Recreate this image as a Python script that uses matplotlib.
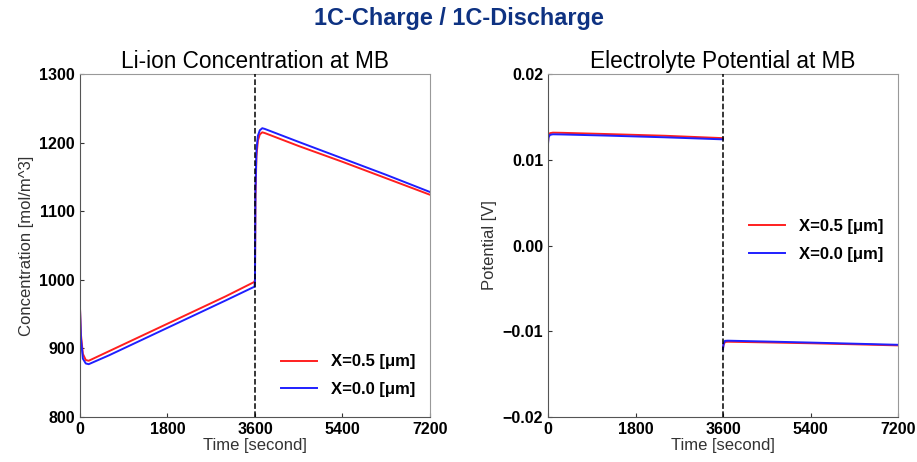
import numpy as np
import matplotlib
matplotlib.use('Agg')
import matplotlib.pyplot as plt

plt.rcParams['font.family'] = ['Liberation Sans', 'DejaVu Sans']

# values
t_conc = [0, 20, 60, 120, 180, 600, 1200, 1800, 2400, 3000, 3590,
          3600, 3610, 3630, 3660, 3700, 3750, 3800, 4500, 5400, 6300, 7200]
conc_x05 = [960, 920, 892, 883, 882, 896, 916, 936, 956, 976, 997,
            1000, 1120, 1180, 1203, 1212, 1215, 1214, 1195, 1172, 1148, 1124]
conc_x00 = [960, 915, 885, 878, 877, 890, 910, 930, 950, 970, 990,
            1000, 1130, 1188, 1210, 1218, 1221, 1220, 1201, 1177, 1153, 1128]

# potential: charge part (up to 3600 s) and discharge part are separate runs
t_pot = [0, 10, 40, 100, 300, 1200, 2400, 3600,
         3600, 3610, 3640, 3700, 4500, 5400, 6300, 7200]
pot_x05 = [0.0120, 0.0128, 0.0131, 0.01316, 0.01314, 0.01300, 0.01280, 0.01252,
           -0.0120, -0.0116, -0.01125, -0.01122, -0.01130, -0.01140, -0.01152, -0.01165]
pot_x00 = [0.0118, 0.0126, 0.0129, 0.01297, 0.01295, 0.01282, 0.01262, 0.01238,
           -0.0121, -0.0115, -0.01112, -0.01110, -0.01120, -0.01132, -0.01145, -0.01158]
n_charge = 8

xticks = [0, 1800, 3600, 5400, 7200]
labels = ['X=0.5 [\u03bcm]', 'X=0.0 [\u03bcm]']
red, blue = '#ff1f1f', '#1f1fff'

fig = plt.figure(figsize=(9.17, 4.62), dpi=100)
ax1 = fig.add_axes([0.0872, 0.0974, 0.3817, 0.7424])
ax2 = fig.add_axes([0.5976, 0.0974, 0.3817, 0.7424])

fig.text(0.5, 0.96, '1C-Charge / 1C-Discharge', ha='center', va='center',
         fontsize=16.9, fontweight='bold', color='#0e3282')


def style_axis(ax):
    ax.set_xlim(0, 7200)
    ax.set_xticks(xticks)
    ax.tick_params(direction='in', length=3, width=0.8, labelsize=11.5, color='#333333')
    for lab in ax.get_xticklabels() + ax.get_yticklabels():
        lab.set_fontweight('bold')
    for side in ['top', 'right']:
        ax.spines[side].set_color('#999999')
    for side in ['left', 'bottom']:
        ax.spines[side].set_color('#555555')
    ax.set_xlabel('Time [second]', fontsize=12, color='#333333', labelpad=1)
    ax.axvline(3600, color='black', ls='--', lw=1.1, zorder=3)


ax1.plot(t_conc, conc_x05, color=red, lw=1.4, label=labels[0])
ax1.plot(t_conc, conc_x00, color=blue, lw=1.4, label=labels[1])
ax1.set_ylim(800, 1300)
ax1.set_yticks(np.arange(800, 1301, 100))
style_axis(ax1)
ax1.set_ylabel('Concentration [mol/m^3]', fontsize=12, color='#333333')
ax1.set_title('Li-ion Concentration at MB', fontsize=16.3, pad=4)
ax1.legend(loc='lower right', frameon=False, prop={'weight': 'bold', 'size': 12},
           handlelength=2.2, labelspacing=0.75, bbox_to_anchor=(1.0, 0.015))

for vals, col, lab in [(pot_x05, red, labels[0]), (pot_x00, blue, labels[1])]:
    ax2.plot(t_pot[:n_charge], vals[:n_charge], color=col, lw=1.4, label=lab)
    ax2.plot(t_pot[n_charge:], vals[n_charge:], color=col, lw=1.4)
ax2.set_ylim(-0.02, 0.02)
ax2.set_yticks([-0.02, -0.01, 0.0, 0.01, 0.02])
style_axis(ax2)
ax2.set_yticklabels(['\u22120.02', '\u22120.01', '0.00', '0.01', '0.02'], fontweight='bold')
ax2.set_ylabel('Potential [V]', fontsize=12, color='#333333')
ax2.set_title('Electrolyte Potential at MB', fontsize=16.3, pad=4)
ax2.legend(loc='center right', frameon=False, prop={'weight': 'bold', 'size': 12},
           handlelength=2.2, labelspacing=0.75, bbox_to_anchor=(1.0, 0.515))

plt.savefig('out.png', dpi=100)
